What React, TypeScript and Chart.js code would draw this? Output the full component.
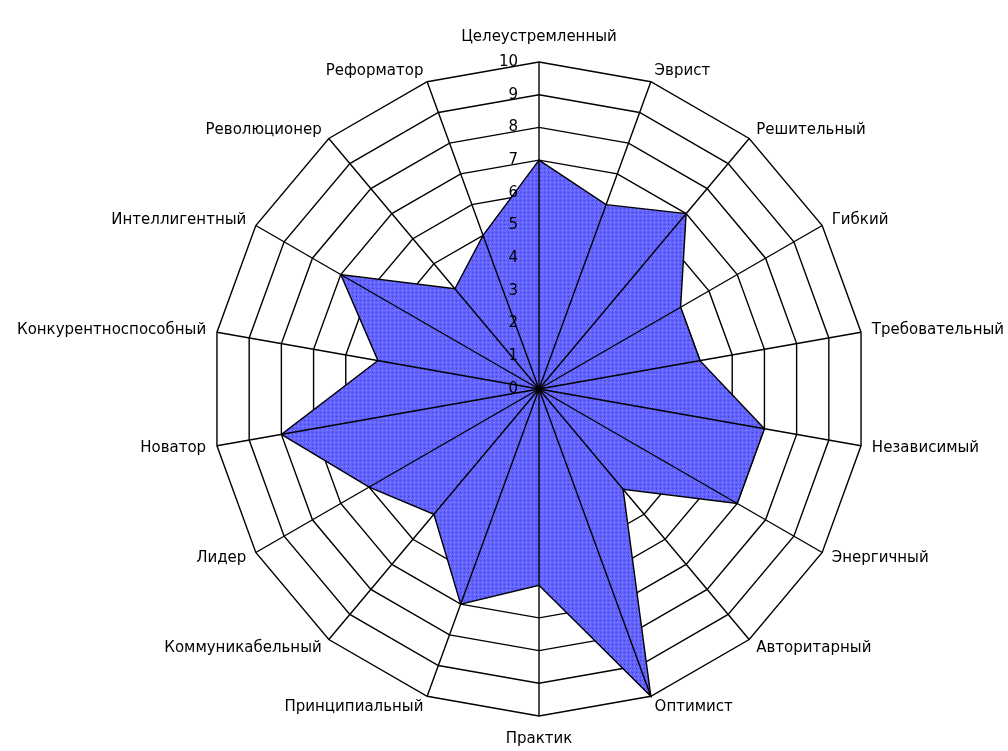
import React, { useEffect, useRef } from "react";
import { Chart, registerables } from "chart.js";

Chart.register(...registerables);

const categories: string[] = [
  "Целеустремленный",
  "Эврист",
  "Решительный",
  "Гибкий",
  "Требовательный",
  "Независимый",
  "Энергичный",
  "Авторитарный",
  "Оптимист",
  "Практик",
  "Принципиальный",
  "Коммуникабельный",
  "Лидер",
  "Новатор",
  "Конкурентноспособный",
  "Интеллигентный",
  "Революционер",
  "Реформатор",
];

const values: number[] = [7, 6, 7, 5, 5, 7, 7, 4, 10, 6, 7, 5, 6, 8, 5, 7, 4, 5];

const tickLabels: string[] = ["0", "1", "2", "3", "4", "5", "6", "7", "8", "9", "10"];

const FONT = '15px "DejaVu Sans", sans-serif';
const LINE_W = 1.4;

function makePattern(): CanvasPattern | string {
  const c = document.createElement("canvas");
  c.width = 4;
  c.height = 4;
  const g = c.getContext("2d");
  if (!g) return "rgb(96,96,255)";
  g.fillStyle = "rgb(98,98,255)";
  g.fillRect(0, 0, 4, 4);
  g.fillStyle = "rgb(66,66,210)";
  g.fillRect(0, 0, 1, 1);
  g.fillStyle = "rgb(150,150,255)";
  g.fillRect(2, 2, 1, 1);
  const p = g.createPattern(c, "repeat");
  return p || "rgb(96,96,255)";
}

const spokesPlugin = {
  id: "spokesOnTop",
  afterDatasetsDraw(chart: any) {
    const scale = chart.scales.r;
    const ctx = chart.ctx;
    ctx.save();
    ctx.strokeStyle = "#000";
    ctx.lineWidth = LINE_W;
    for (let i = 0; i < categories.length; i++) {
      const p = scale.getPointPosition(i, scale.drawingArea);
      ctx.beginPath();
      ctx.moveTo(scale.xCenter, scale.yCenter);
      ctx.lineTo(p.x, p.y);
      ctx.stroke();
    }
    ctx.restore();
  },
  afterDraw(chart: any) {
    const scale = chart.scales.r;
    const ctx = chart.ctx;
    ctx.save();
    ctx.font = FONT;
    ctx.fillStyle = "#000";
    ctx.textAlign = "right";
    ctx.textBaseline = "middle";
    tickLabels.forEach((t) => {
      const d = scale.getDistanceFromCenterForValue(Number(t));
      ctx.fillText(t, scale.xCenter - 21, scale.yCenter - d);
    });
    const n = categories.length;
    categories.forEach((label, i) => {
      const deg = (i * 360) / n;
      let d = scale.drawingArea + 11;
      let align: CanvasTextAlign = "left";
      let base: CanvasTextBaseline = "middle";
      if (deg === 0) {
        align = "center";
        base = "alphabetic";
        d = scale.drawingArea + 21;
      } else if (deg === 180) {
        align = "center";
        base = "top";
        d = scale.drawingArea + 16;
      } else if (deg > 180) {
        align = "right";
      }
      const p = scale.getPointPosition(i, d);
      ctx.textAlign = align;
      ctx.textBaseline = base;
      ctx.fillText(label, p.x, p.y);
    });
    ctx.restore();
  },
};

export default function App() {
  const ref = useRef<HTMLCanvasElement | null>(null);

  useEffect(() => {
    if (!ref.current) return;
    const chart = new Chart(ref.current, {
      type: "radar",
      data: {
        labels: categories,
        datasets: [
          {
            data: values,
            backgroundColor: makePattern() as any,
            borderColor: "#000",
            borderWidth: LINE_W,
            fill: true,
            pointRadius: 0,
            pointHoverRadius: 0,
            tension: 0,
          },
        ],
      },
      options: {
        responsive: false,
        animation: false,
        layout: { padding: { left: 212, right: 142, top: 62, bottom: 35 } },
        plugins: {
          legend: { display: false },
          tooltip: { enabled: false },
          title: { display: false },
        },
        scales: {
          r: {
            min: 0,
            max: 10,
            ticks: { display: false, stepSize: 1 },
            pointLabels: { display: false },
            angleLines: { display: false },
            grid: { color: "#000", lineWidth: LINE_W, circular: false },
          },
        },
      },
      plugins: [spokesPlugin],
    });
    return () => chart.destroy();
  }, []);

  return (
    <div style={{ position: "absolute", left: 0, top: 0, width: 1008, height: 751, background: "#fff" }}>
      <canvas ref={ref} width={1008} height={751} style={{ display: "block" }} />
    </div>
  );
}
